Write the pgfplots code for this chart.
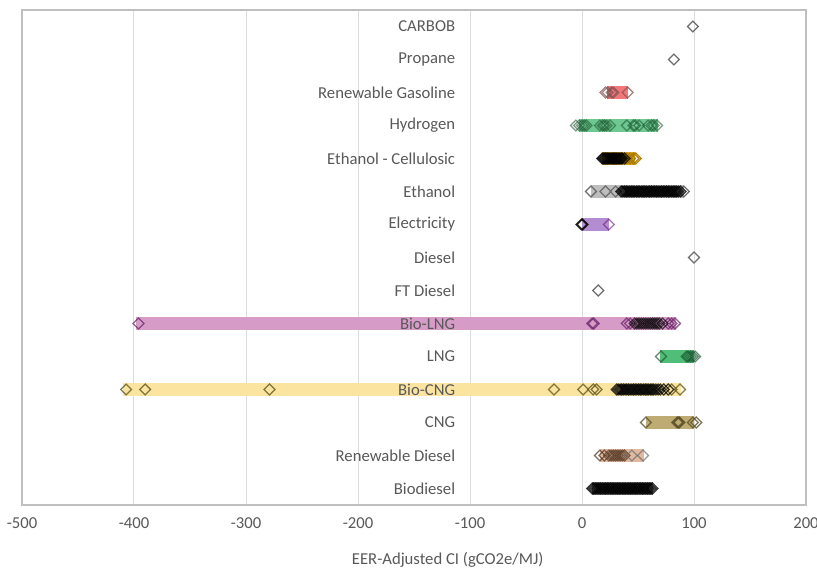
\documentclass[border=0pt]{standalone}
\usepackage{pgfplots}
\pgfplotsset{compat=1.18}
\usepackage{fontspec}
\setmainfont{Carlito}
\definecolor{txt}{RGB}{89,89,89}
\definecolor{framec}{RGB}{191,191,191}
\definecolor{gridc}{RGB}{220,220,220}
\definecolor{mgray}{RGB}{110,110,110}
\definecolor{cRG}{RGB}{240,120,120}
\definecolor{cH2}{RGB}{110,200,145}
\definecolor{cEC}{RGB}{215,165,40}
\definecolor{cEth}{RGB}{190,190,190}
\definecolor{cEl}{RGB}{180,140,210}
\definecolor{cBLNG}{RGB}{215,155,200}
\definecolor{cLNG}{RGB}{80,190,120}
\definecolor{cBCNG}{RGB}{250,228,160}
\definecolor{cCNG}{RGB}{190,170,115}
\definecolor{cRD}{RGB}{225,185,160}
\definecolor{cBD}{RGB}{120,120,120}
\definecolor{mRG}{RGB}{130,80,80}
\definecolor{mH2}{RGB}{30,90,50}
\definecolor{mEC}{RGB}{170,120,0}
\definecolor{mBLNG}{RGB}{100,30,100}
\definecolor{mBCNG}{RGB}{100,90,30}
\definecolor{mCNG}{RGB}{90,80,40}
\definecolor{mRD}{RGB}{90,60,40}
\pgfplotsset{
  dm/.style={only marks, mark=square, mark size=2.3pt, line width=0.75pt,
    mark options={rotate=45, fill=none, solid}},
  bar/.style={line width=7.4pt, forget plot},
}
\begin{document}
\begin{tikzpicture}
\path[use as bounding box, fill=white] (-13.2pt,-38.4pt) rectangle (477pt,303pt);
\begin{axis}[
  at={(0,0)}, anchor=south west,
  width=470.4pt, height=297pt, scale only axis,
  xmin=-500, xmax=200, ymin=0.5, ymax=15.5,
  xtick={-500,-400,-300,-200,-100,0,100,200},
  ytick=\empty,
  xmajorgrids, grid style={draw=gridc, line width=0.6pt},
  axis line style={draw=framec, line width=0.7pt},
  major tick length=0pt,
  /pgf/number format/assume math mode=true,
  xticklabel style={text=txt, font=\fontsize{10}{12}\selectfont, yshift=-4pt},
  xlabel={EER-Adjusted CI (gCO2e/MJ)},
  xlabel style={at={(axis description cs:0.543,0)}, anchor=center, yshift=-33pt,
    text=txt, font=\fontsize{10}{12}\selectfont},
  clip=false,
]
% ---- range bars ----
\addplot[bar, draw=cRG] coordinates {(22,13) (41,13)};
\addplot[bar, draw=cH2] coordinates {(-3,12) (68,12)};
\addplot[bar, draw=cEC] coordinates {(18,11) (47,11)};
\addplot[bar, draw=cEth] coordinates {(8,10) (91,10)};
\addplot[bar, draw=cEl] coordinates {(0,9) (24,9)};
\addplot[bar, draw=cBLNG] coordinates {(-398,6) (84,6)};
\addplot[bar, draw=cLNG] coordinates {(70,5) (100,5)};
\addplot[bar, draw=cBCNG] coordinates {(-410,4) (88,4)};
\addplot[bar, draw=cCNG] coordinates {(57,3) (100,3)};
\addplot[bar, draw=cRD] coordinates {(16,2) (55,2)};
\addplot[bar, draw=cBD] coordinates {(9,1) (63,1)};
% ---- markers ----
% CARBOB, Propane, Diesel, FT Diesel
\addplot[dm, draw=mgray] coordinates {(99,15) (82,14) (100,8) (14.5,7)};
% Renewable Gasoline
\addplot[dm, draw=mRG, draw opacity=0.7] coordinates {(21,13) (23,13) (26.5,13) (28,13) (40.8,13)};
% Hydrogen
\addplot[dm, draw=mH2, draw opacity=0.6] coordinates {(-5.5,12) (-2.5,12) (0,12) (2,12) (4,12) (16,12) (18.5,12) (20,12) (22,12) (25,12) (40,12) (46,12) (47.5,12) (51,12) (59,12) (62,12) (64,12) (67,12)};
% Ethanol - Cellulosic
\addplot[dm, draw=mEC, draw opacity=0.9] coordinates {(40,11) (43,11) (46,11) (48,11)};
\addplot[dm, draw=black, draw opacity=0.75] coordinates {(18,11) (19,11) (20,11) (21,11) (22,11) (23,11) (24,11) (25,11) (26,11) (27,11) (28,11) (29,11) (30,11) (31,11) (32,11) (33,11) (34,11) (35,11) (36,11) (38,11)};
% Ethanol
\addplot[dm, draw=mgray] coordinates {(8,10) (21,10) (30,10) (91,10)};
\addplot[dm, draw=black, draw opacity=0.8] coordinates {(35,10) (36.5,10) (38,10) (39.5,10) (41,10) (42.5,10) (44,10) (45.5,10) (47,10) (48.5,10) (50,10) (51.5,10) (53,10) (54.5,10) (56,10) (57.5,10) (59,10) (60.5,10) (62,10) (63.5,10) (65,10) (66.5,10) (68,10) (69.5,10) (71,10) (72.5,10) (74,10) (75.5,10) (77,10) (78.5,10) (80,10) (81.5,10) (83,10) (84.5,10) (86,10) (88,10)};
% Electricity
\addplot[dm, draw=black, draw opacity=0.8] coordinates {(-0.5,9) (0.5,9)};
\addplot[dm, draw=mBLNG, draw opacity=0.6] coordinates {(24,9)};
% Bio-LNG
\addplot[dm, draw=mBLNG, draw opacity=0.7] coordinates {(-396,6) (9,6) (10.5,6) (40,6) (43,6) (77,6) (80,6) (83,6)};
\addplot[dm, draw=black, draw opacity=0.65] coordinates {(47,6) (49,6) (51,6) (53,6) (55,6) (57,6) (59,6) (61,6) (63,6) (65,6) (67,6) (69,6) (72,6)};
% LNG
\addplot[dm, draw=mH2, draw opacity=0.7] coordinates {(70.5,5) (93.5,5) (95,5) (97,5) (99,5) (101,5)};
% Bio-CNG
\addplot[dm, draw=mBCNG, draw opacity=0.8] coordinates {(-407,4) (-390,4) (-279,4) (-25,4) (1,4) (10,4) (13,4) (80,4) (87.5,4)};
\addplot[dm, draw=black, draw opacity=0.75] coordinates {(31,4) (32.5,4) (34,4) (35.5,4) (37,4) (38.5,4) (40,4) (41.5,4) (43,4) (44.5,4) (46,4) (47.5,4) (49,4) (50.5,4) (52,4) (53.5,4) (55,4) (56.5,4) (58,4) (59.5,4) (61,4) (62.5,4) (64,4) (66,4) (68,4) (70,4) (73,4) (77,4)};
% CNG
\addplot[dm, draw=mCNG, draw opacity=0.8] coordinates {(57,3) (85,3) (86,3) (87,3) (99,3) (102,3)};
% Renewable Diesel
\addplot[dm, draw=mRD, draw opacity=0.75] coordinates {(16,2) (20,2) (24,2) (26,2) (28,2) (30,2) (32,2) (34,2) (36,2) (38,2)};
\addplot[dm, draw=mgray, draw opacity=0.7] coordinates {(44.5,2) (54.5,2)};
% Biodiesel
\addplot[dm, draw=black, draw opacity=0.75] coordinates {(9,1) (10.5,1) (12,1) (13.5,1) (15,1) (16.5,1) (18,1) (19.5,1) (21,1) (22.5,1) (24,1) (25.5,1) (27,1) (28.5,1) (30,1) (31.5,1) (33,1) (34.5,1) (36,1) (37.5,1) (39,1) (40.5,1) (42,1) (43.5,1) (45,1) (46.5,1) (48,1) (49.5,1) (51,1) (52.5,1) (54,1) (55.5,1) (57,1) (58.5,1) (60,1) (61.5,1) (63,1)};
% ---- category labels ----
\begin{scope}[every node/.style={anchor=east, inner sep=0pt, text=txt, font=\fontsize{10}{12}\selectfont}]
\node at (axis cs:-113,15) {CARBOB};
\node at (axis cs:-113,14) {Propane};
\node at (axis cs:-113,13) {Renewable Gasoline};
\node at (axis cs:-113,12) {Hydrogen};
\node at (axis cs:-113,11) {Ethanol - Cellulosic};
\node at (axis cs:-113,10) {Ethanol};
\node at (axis cs:-113,9) {Electricity};
\node at (axis cs:-113,8) {Diesel};
\node at (axis cs:-113,7) {FT Diesel};
\node at (axis cs:-113,6) {Bio-LNG};
\node at (axis cs:-113,5) {LNG};
\node at (axis cs:-113,4) {Bio-CNG};
\node at (axis cs:-113,3) {CNG};
\node at (axis cs:-113,2) {Renewable Diesel};
\node at (axis cs:-113,1) {Biodiesel};
\end{scope}
\end{axis}
\end{tikzpicture}
\end{document}
